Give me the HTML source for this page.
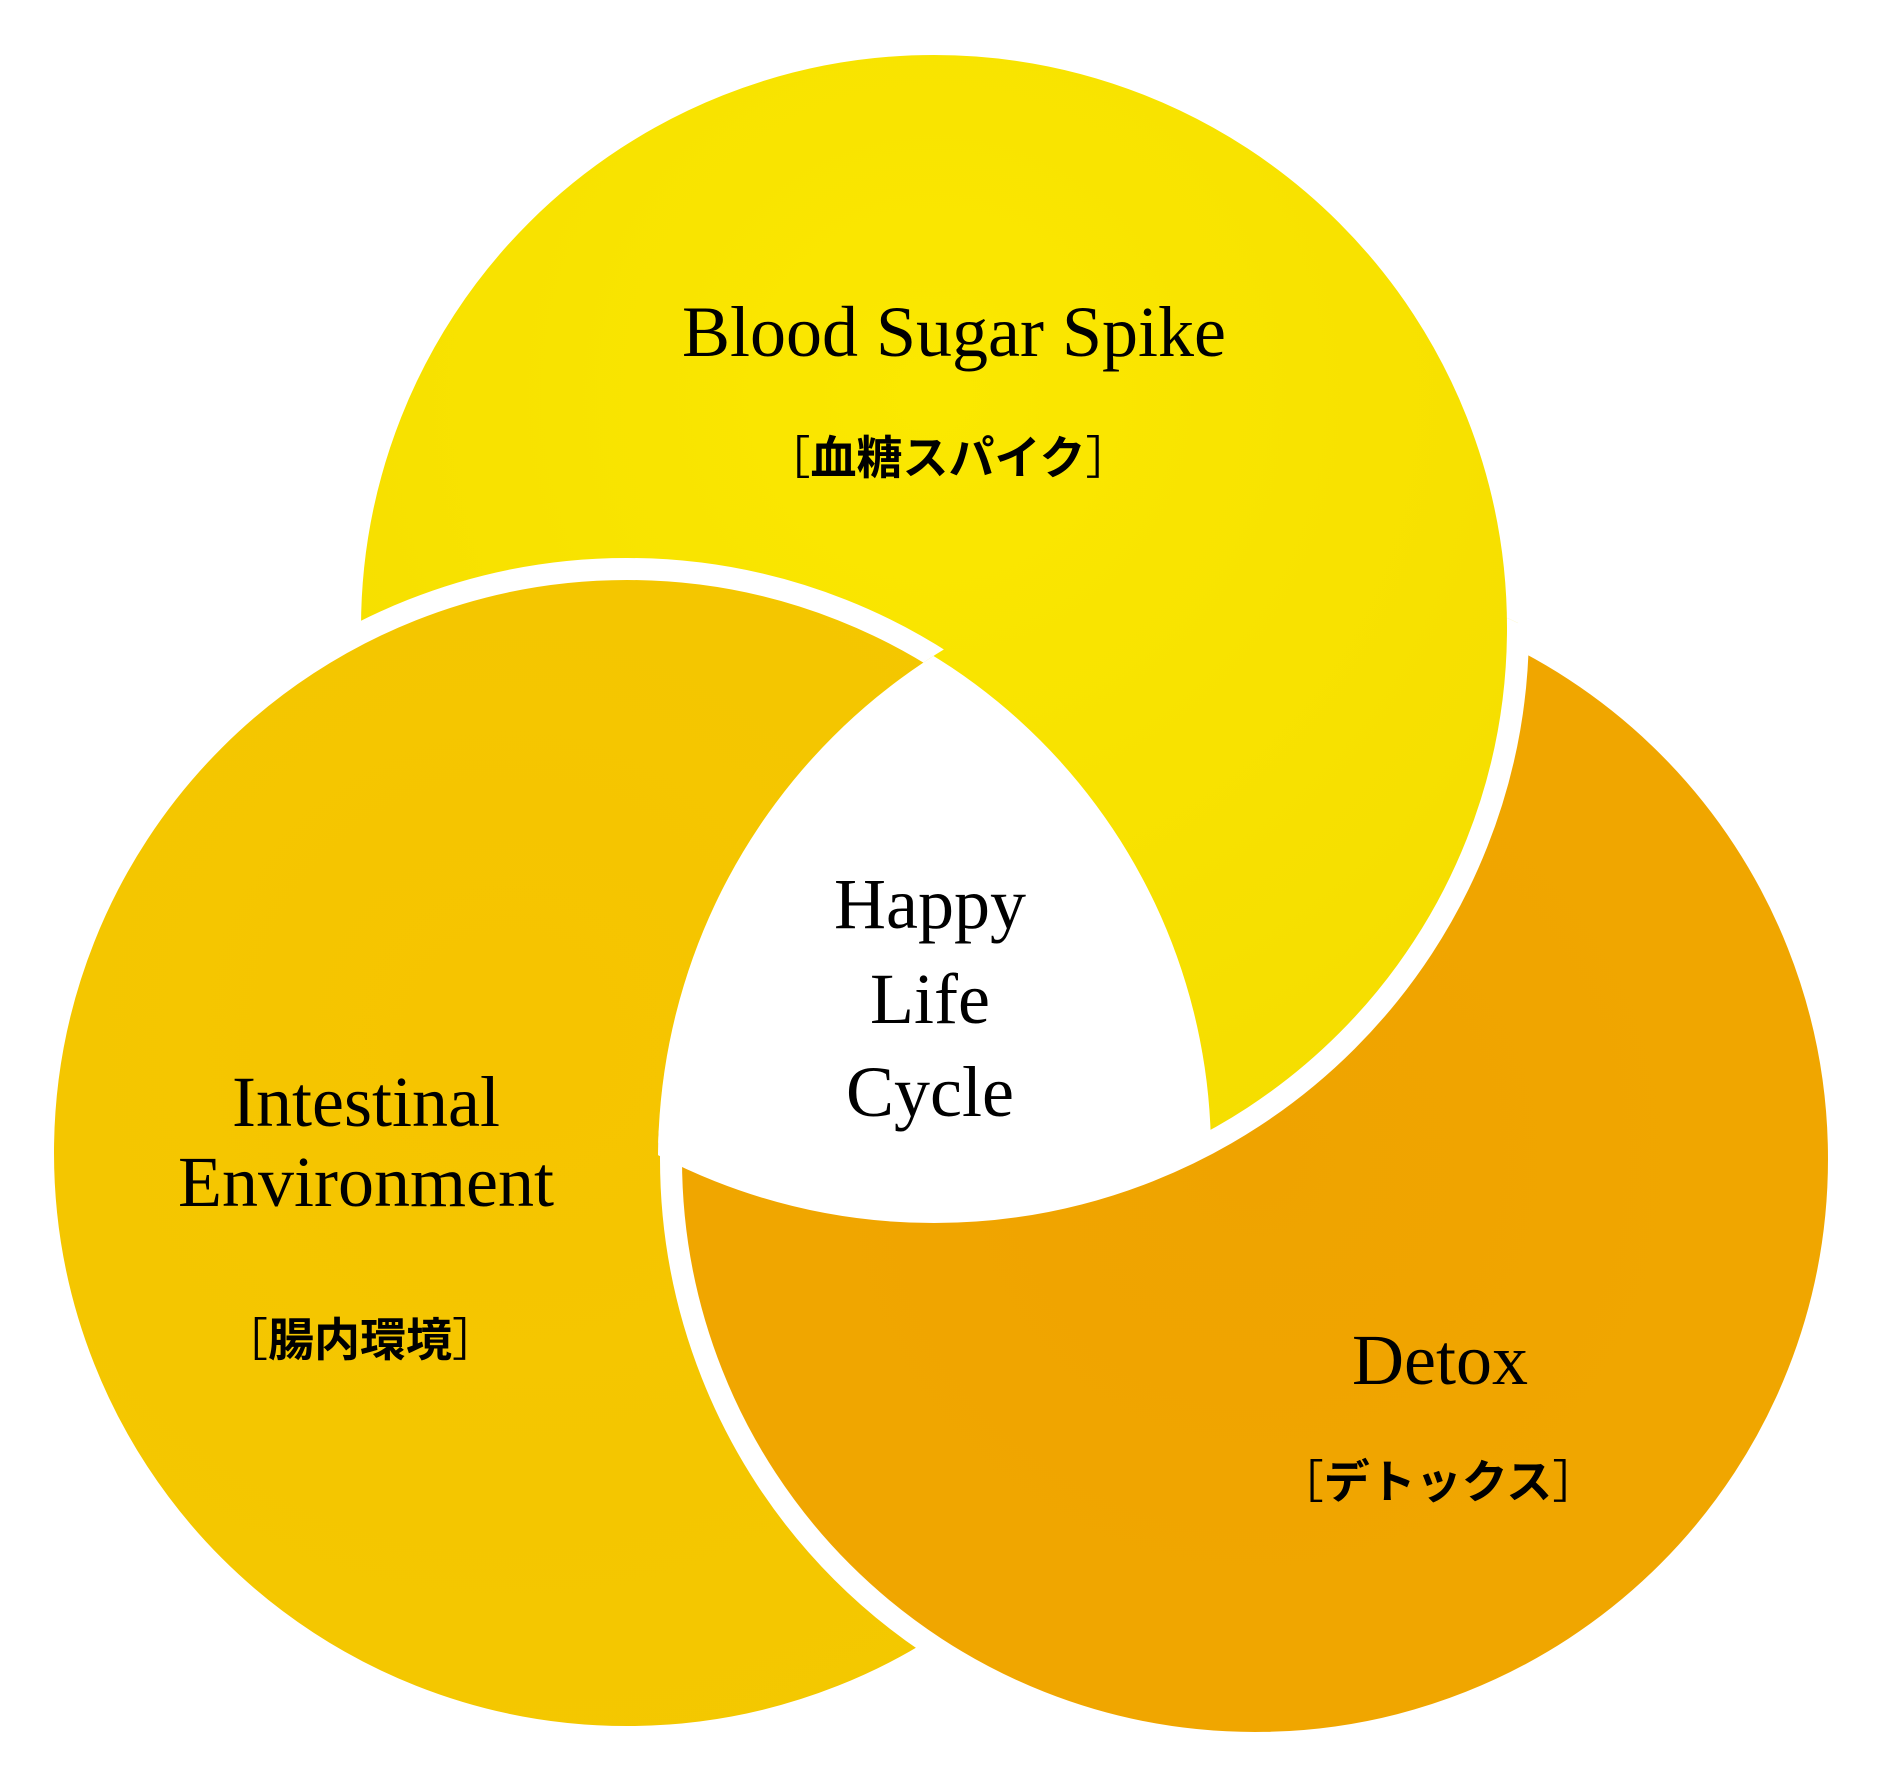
<!DOCTYPE html>
<html><head><meta charset="utf-8"><style>
html,body{margin:0;padding:0;background:#fff;}
svg{display:block}
</style></head><body>
<svg width="1883" height="1780" viewBox="0 0 1883 1780" xmlns="http://www.w3.org/2000/svg">
<defs>
<radialGradient id="gt" cx="0.5" cy="0.3" r="0.7"><stop offset="0" stop-color="#fbe800"/><stop offset="1" stop-color="#f5dd00"/></radialGradient>
<radialGradient id="gl" cx="0.4" cy="0.4" r="0.7"><stop offset="0" stop-color="#f6c400"/><stop offset="1" stop-color="#f3c800"/></radialGradient>
<radialGradient id="gr" cx="0.5" cy="0.5" r="0.7"><stop offset="0" stop-color="#efa300"/><stop offset="1" stop-color="#f1a800"/></radialGradient>
<clipPath id="crb"><circle cx="1255" cy="1159" r="597"/></clipPath>
<clipPath id="cl"><circle cx="627" cy="1153" r="584"/></clipPath>
</defs>
<circle cx="934" cy="628" r="584" fill="url(#gt)" stroke="#fff" stroke-width="22"/>
<circle cx="627" cy="1153" r="584" fill="url(#gl)" stroke="#fff" stroke-width="22"/>
<circle cx="1255" cy="1159" r="584" fill="url(#gr)" stroke="#fff" stroke-width="22"/>
<g clip-path="url(#crb)"><circle cx="934" cy="628" r="584" fill="url(#gt)" stroke="#fff" stroke-width="22"/></g>
<g clip-path="url(#cl)"><g clip-path="url(#crb)"><circle cx="934" cy="628" r="584" fill="#fff"/></g></g>
<g font-family="'Liberation Serif', serif" fill="#000" text-anchor="middle" font-size="72">
<text x="954" y="356">Blood Sugar Spike</text>
<text x="930" y="928">Happy</text>
<text x="930" y="1023">Life</text>
<text x="930" y="1116">Cycle</text>
<text x="366" y="1126">Intestinal</text>
<text x="366" y="1206">Environment</text>
<text x="1440" y="1384">Detox</text>
</g>
<g font-family="'Liberation Sans','Noto Sans CJK JP',sans-serif" font-weight="bold" fill="#000" text-anchor="middle" font-size="46">
<text x="948" y="474"><tspan font-weight="normal">［</tspan>血糖スパイク<tspan font-weight="normal">］</tspan></text>
<text x="360" y="1356"><tspan font-weight="normal">［</tspan>腸内環境<tspan font-weight="normal">］</tspan></text>
<text x="1438" y="1498"><tspan font-weight="normal">［</tspan>デトックス<tspan font-weight="normal">］</tspan></text>
</g>
</svg>
</body></html>
